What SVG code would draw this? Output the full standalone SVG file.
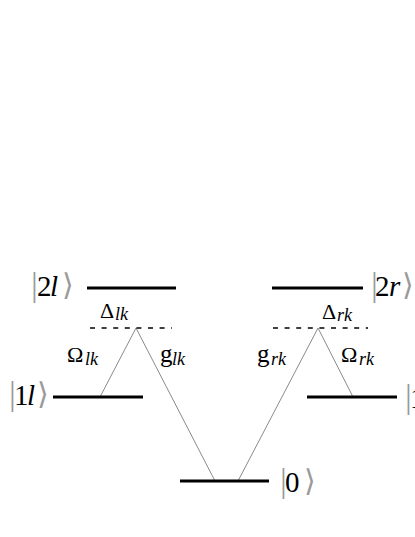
<svg xmlns="http://www.w3.org/2000/svg" width="415" height="537" viewBox="0 0 415 537">
<style>
text{font-family:'Liberation Serif','Times New Roman',serif;fill:#000}
.lvl{stroke:#000;stroke-width:3;fill:none}
.dash{stroke:#000;stroke-width:1.4;stroke-dasharray:5 6.6;fill:none}
.conn{stroke:#8a8a8a;stroke-width:1;fill:none}
.ket{font-size:29px}
.br{font-size:34px;fill:#9a9a9a}
.ang{font-family:'DejaVu Sans',sans-serif;font-size:30px;fill:#9a9a9a}
.it{font-style:italic}
.gr{font-size:22px}
.g{font-size:25px}
.sub{font-size:18px;font-style:italic}
</style>
<rect width="415" height="537" fill="#fff"/>
<g id="connectors">
<polyline class="conn" points="100,397 136,328 215,481"/>
<polyline class="conn" points="238,481 318,328 353,397"/>
</g>
<g id="level-2l">
<line class="lvl" x1="87" y1="288" x2="176" y2="288"/>
<text class="ket" y="296"><tspan class="br" x="31">|</tspan><tspan x="37">2</tspan><tspan class="it" x="50">l</tspan><tspan class="ang" x="62" y="295">⟩</tspan></text>
</g>
<g id="level-1l">
<line class="lvl" x1="53" y1="397" x2="143" y2="397"/>
<text class="ket" y="405"><tspan class="br" x="9">|</tspan><tspan x="14">1</tspan><tspan class="it" x="27">l</tspan><tspan class="ang" x="37" y="404">⟩</tspan></text>
</g>
<g id="level-0">
<line class="lvl" x1="180" y1="481" x2="269" y2="481"/>
<text class="ket" y="492"><tspan class="br" x="280">|</tspan><tspan x="285">0</tspan><tspan class="ang" x="304" y="491">⟩</tspan></text>
</g>
<g id="level-2r">
<line class="lvl" x1="272" y1="288" x2="363" y2="288"/>
<text class="ket" y="296"><tspan class="br" x="371">|</tspan><tspan x="375">2</tspan><tspan class="it" x="389">r</tspan><tspan class="ang" x="402" y="295">⟩</tspan></text>
</g>
<g id="level-1r">
<line class="lvl" x1="307" y1="397" x2="397" y2="397"/>
<text class="ket" y="408"><tspan class="br" x="405">|</tspan><tspan x="410">1</tspan><tspan class="it" x="424">r</tspan></text>
</g>
<g id="virtual-l">
<line class="dash" x1="90" y1="328" x2="172" y2="328"/>
<text class="gr" x="100" y="318">Δ<tspan class="sub" x="115" y="320">lk</tspan></text>
</g>
<g id="virtual-r">
<line class="dash" x1="273" y1="328" x2="368" y2="328"/>
<text class="gr" x="322" y="319">Δ<tspan class="sub" x="337" y="321">rk</tspan></text>
</g>
<g id="labels">
<text class="gr" x="67" y="362">Ω<tspan class="sub" x="85" y="365">lk</tspan></text>
<text class="g" x="160" y="362">g<tspan class="sub" x="172" y="365">lk</tspan></text>
<text class="g" x="257" y="362">g<tspan class="sub" x="271" y="365">rk</tspan></text>
<text class="gr" x="341" y="362">Ω<tspan class="sub" x="359" y="365">rk</tspan></text>
</g>
</svg>
